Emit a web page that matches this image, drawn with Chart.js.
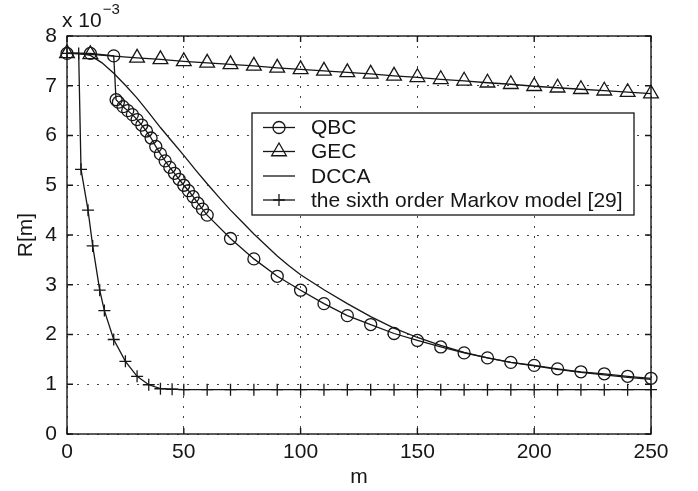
<!DOCTYPE html>
<html><head><meta charset="utf-8">
<script src="https://cdn.jsdelivr.net/npm/chart.js@4.4.0/dist/chart.umd.min.js"></script>
<style>html,body{margin:0;padding:0;background:#fff}#wrap{width:698px;height:491px;position:relative}</style>
</head><body><div id="wrap"><canvas id="c" width="698" height="491"></canvas></div>
<script>
// ---- data (R[m] in units of 1e-3) ----
const xTicks = [0, 50, 100, 150, 200, 250];
const yTicks = [0, 1, 2, 3, 4, 5, 6, 7, 8];
const seriesNames = ['QBC', 'GEC', 'DCCA', 'the sixth order Markov model [29]'];
const yExponentBase = 'x 10';
const yExponent = '\u22123';
const xTitle = 'm';
const yTitle = 'R[m]';

const qbcX = [0, 10, 20, 21, 22, 24, 26, 28, 30, 32, 34, 36, 38, 40, 42, 44, 46, 48, 50, 52, 54, 56, 58, 60,
  70, 80, 90, 100, 110, 120, 130, 140, 150, 160, 170, 180, 190, 200, 210, 220, 230, 240, 250];
const qbcY = [7.65, 7.65, 7.6, 6.72, 6.67, 6.58, 6.50, 6.42, 6.32, 6.21, 6.09, 5.95, 5.78, 5.63, 5.49, 5.36, 5.24, 5.12, 5.00, 4.89, 4.77, 4.64, 4.52, 4.40,
  3.93, 3.52, 3.17, 2.89, 2.62, 2.38, 2.20, 2.02, 1.88, 1.75, 1.63, 1.53, 1.44, 1.38, 1.31, 1.25, 1.21, 1.16, 1.12];

const gecX = [0, 10, 30, 40, 50, 60, 70, 80, 90, 100, 110, 120, 130, 140, 150, 160, 170, 180, 190, 200, 210, 220, 230, 240, 250];
const gecY = [7.65, 7.63, 7.56, 7.53, 7.49, 7.46, 7.43, 7.40, 7.36, 7.33, 7.30, 7.27, 7.24, 7.20, 7.17, 7.13, 7.10, 7.06, 7.03, 6.99, 6.96, 6.93, 6.90, 6.87, 6.84];

const dccaX = [0, 5, 10, 15, 20, 25, 30, 35, 40, 45, 50, 55, 60, 65, 70, 75, 80, 85, 90, 95, 100,
  110, 120, 130, 140, 150, 160, 170, 180, 190, 200, 210, 220, 230, 240, 250];
const dccaY = [7.65, 7.65, 7.61, 7.46, 7.25, 7.01, 6.75, 6.46, 6.16, 5.88, 5.60, 5.31, 5.03, 4.76, 4.50, 4.26, 4.02, 3.80, 3.58, 3.38, 3.20,
  2.90, 2.62, 2.36, 2.13, 1.94, 1.78, 1.64, 1.53, 1.44, 1.37, 1.30, 1.24, 1.19, 1.14, 1.10];

const markovX = [0, 5, 6, 9, 11, 14, 16, 20, 25, 30, 35, 40, 45, 50, 60, 70, 80, 90, 100, 110, 120, 130, 140, 150,
  160, 170, 180, 190, 200, 210, 220, 230, 240, 250];
const markovY = [7.65, 7.65, 5.32, 4.50, 3.78, 2.89, 2.48, 1.90, 1.46, 1.16, 0.99, 0.91, 0.90, 0.89, 0.89, 0.89, 0.89, 0.89, 0.89, 0.89, 0.89, 0.89, 0.89, 0.89,
  0.89, 0.89, 0.89, 0.89, 0.89, 0.89, 0.89, 0.89, 0.89, 0.89];

// ---- styling ----
const INK = '#161616';
const FONT = '"Liberation Sans", Arial, Helvetica, sans-serif';
function pts(xs, ys) { return xs.map((x, i) => ({ x: x, y: ys[i] })); }
const common = {
  borderColor: INK, borderWidth: 1.3, pointBorderColor: INK,
  pointBackgroundColor: 'rgba(0,0,0,0)', pointBorderWidth: 1.3,
  tension: 0, clip: false, fill: false, pointHoverRadius: 6
};
const markerStyles = [
  { pointStyle: 'circle', pointRadius: 6 },
  { pointStyle: 'triangle', pointRadius: 8.5 },
  { pointStyle: false, pointRadius: 0 },
  { pointStyle: 'cross', pointRadius: 6 }
];
const xsList = [qbcX, gecX, dccaX, markovX];
const ysList = [qbcY, gecY, dccaY, markovY];

const framePlugin = {
  id: 'frame',
  afterDatasetsDraw(chart) {
    const { ctx, chartArea: a, scales: { x, y } } = chart;
    ctx.save();
    ctx.strokeStyle = INK; ctx.lineWidth = 1.4;
    ctx.strokeRect(a.left, a.top, a.right - a.left, a.bottom - a.top);
    const tl = 6;
    ctx.beginPath();
    xTicks.forEach(v => {
      const px = x.getPixelForValue(v);
      ctx.moveTo(px, a.bottom); ctx.lineTo(px, a.bottom - tl);
      ctx.moveTo(px, a.top); ctx.lineTo(px, a.top + tl);
    });
    yTicks.forEach(v => {
      const py = y.getPixelForValue(v);
      ctx.moveTo(a.left, py); ctx.lineTo(a.left + tl, py);
      ctx.moveTo(a.right, py); ctx.lineTo(a.right - tl, py);
    });
    ctx.stroke();
    // exponent label
    ctx.fillStyle = INK;
    ctx.textBaseline = 'alphabetic';
    ctx.textAlign = 'left';
    ctx.font = '21px ' + FONT;
    ctx.fillText(yExponentBase, 62, 27);
    const w = ctx.measureText(yExponentBase).width;
    ctx.font = '15px ' + FONT;
    ctx.fillText(yExponent, 62 + w + 1, 14);
    ctx.restore();
  },
  afterDraw(chart) {
    const { ctx } = chart;
    const bx = 252, by = 113, bw = 382, bh = 102;
    ctx.save();
    ctx.fillStyle = '#fff';
    ctx.fillRect(bx, by, bw, bh);
    ctx.strokeStyle = INK; ctx.lineWidth = 1.3;
    ctx.strokeRect(bx, by, bw, bh);
    const rows = [127.5, 151.5, 176, 200];
    seriesNames.forEach((name, i) => {
      const yy = rows[i];
      ctx.strokeStyle = INK; ctx.lineWidth = 1.3;
      ctx.beginPath(); ctx.moveTo(263, yy); ctx.lineTo(295, yy); ctx.stroke();
      const ms = markerStyles[i];
      if (ms.pointStyle) {
        ctx.fillStyle = 'rgba(0,0,0,0)';
        Chart.helpers.drawPoint(ctx, { pointStyle: ms.pointStyle, radius: ms.pointRadius, rotation: 0, borderWidth: 1.3 }, 279, yy);
      }
      ctx.fillStyle = INK;
      ctx.font = '21px ' + FONT;
      ctx.textBaseline = 'middle';
      ctx.textAlign = 'left';
      ctx.fillText(name, 311, yy + 1);
    });
    ctx.restore();
  }
};

new Chart(document.getElementById('c'), {
  type: 'line',
  data: {
    datasets: seriesNames.map((n, i) => Object.assign({}, common, markerStyles[i], {
      label: n, data: pts(xsList[i], ysList[i])
    }))
  },
  options: {
    responsive: false, animation: false, devicePixelRatio: 1,
    layout: { padding: { left: 0, right: 47, top: 36, bottom: 0 } },
    plugins: { legend: { display: false }, tooltip: { enabled: false } },
    scales: {
      x: {
        type: 'linear', min: 0, max: 250,
        afterFit(s) { s.height = 57; },
        afterBuildTicks(s) { s.ticks = xTicks.map(v => ({ value: v })); },
        ticks: { color: INK, font: { family: FONT, size: 21 }, padding: 6, maxRotation: 0 },
        grid: { color: '#444', lineWidth: 1, drawTicks: false },
        border: { display: false, dash: [2, 8] },
        title: { display: true, text: xTitle, color: INK, font: { family: FONT, size: 21 }, padding: { top: 0, bottom: 1 } }
      },
      y: {
        type: 'linear', min: 0, max: 8,
        afterFit(s) { s.width = 67; },
        afterBuildTicks(s) { s.ticks = yTicks.map(v => ({ value: v })); },
        ticks: { color: INK, font: { family: FONT, size: 21 }, padding: 10 },
        grid: { color: '#444', lineWidth: 1, drawTicks: false },
        border: { display: false, dash: [2, 8] },
        title: { display: true, text: yTitle, color: INK, font: { family: FONT, size: 21 }, padding: { top: 14, bottom: 0 } }
      }
    }
  },
  plugins: [framePlugin]
});
</script>
</body></html>
